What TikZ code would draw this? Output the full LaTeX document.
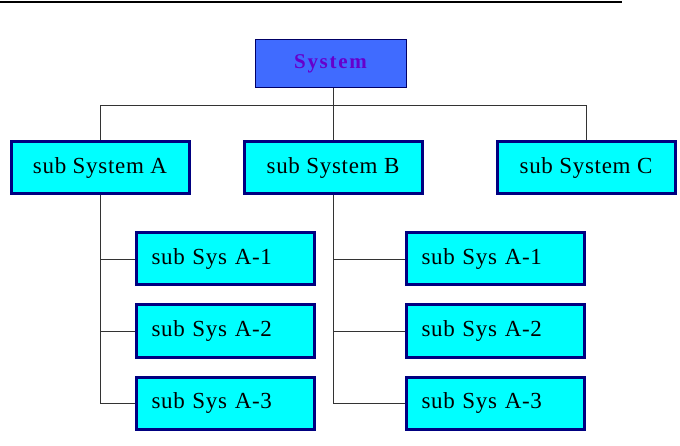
\documentclass[tikz,border=0pt]{standalone}
\usepackage{fontspec}
\setmainfont{Liberation Serif}
\begin{document}
\begin{tikzpicture}[x=1pt,y=-1pt,
  top/.style={draw=blue!40!black, line width=1pt, fill={rgb,255:red,64;green,107;blue,255}, minimum width=151pt, minimum height=48pt, inner sep=0pt, font=\fontsize{21}{24}\selectfont\bfseries\addfontfeature{LetterSpace=8}, text={rgb,255:red,102;green,0;blue,204}},
  subbox/.style={draw={rgb,255:red,0;green,0;blue,128}, line width=3pt, fill={rgb,255:red,0;green,255;blue,255}, minimum width=178pt, minimum height=52pt, inner sep=0pt, font=\fontsize{23}{26}\selectfont\addfontfeature{LetterSpace=3}},
  childbox/.style={subbox, text width=148pt, align=left},
  conn/.style={draw=black!80, line width=0.8pt}]
\useasboundingbox (0,0) rectangle (680,446);
\draw[line width=1.5pt] (0,2) -- (622,2);
\node[top] (sys) at (330.5,64) {System};
\node[subbox] (A) at (100,168) {sub System A};
\node[subbox] (B) at (333,168) {sub System B};
\node[subbox] (C) at (586,168) {sub System C};
\foreach \i/\y in {1/259,2/331,3/403}{
  \node[childbox] (a\i) at (225.5,\y) {sub Sys A-\i};
  \node[childbox] (b\i) at (495.5,\y) {sub Sys A-\i};
}
\coordinate (bus) at (333,105);
\draw[conn] (sys.south -| bus) -- (B.north);
\draw[conn] (A.north) -- (A.north |- bus) -- (C.north |- bus) -- (C.north);
\draw[conn] (A.south) -- (A.south |- a3.west) -- (a3.west);
\draw[conn] (A.south |- a1.west) -- (a1.west);
\draw[conn] (A.south |- a2.west) -- (a2.west);
\draw[conn] (B.south) -- (B.south |- b3.west) -- (b3.west);
\draw[conn] (B.south |- b1.west) -- (b1.west);
\draw[conn] (B.south |- b2.west) -- (b2.west);
\end{tikzpicture}
\end{document}
